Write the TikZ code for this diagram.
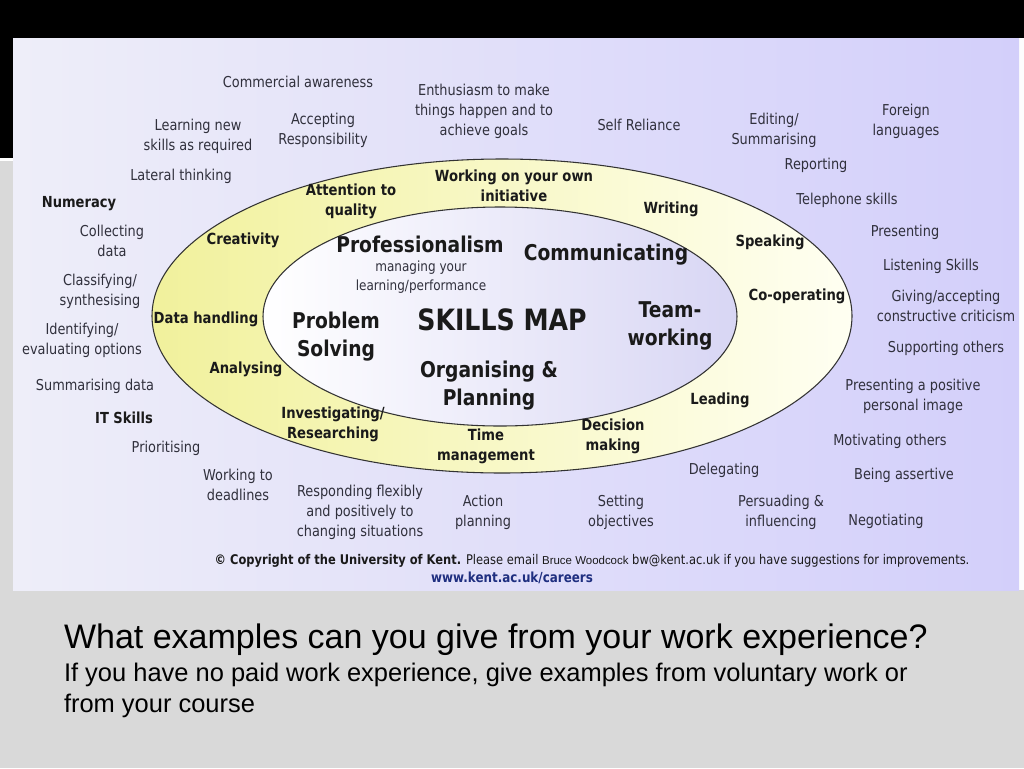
\documentclass[tikz,border=0pt]{standalone}
\usepackage{fontspec}
\setmainfont{DejaVu Sans}[FakeStretch=0.86]
\newfontfamily\arialf{Liberation Sans}
\definecolor{slidegrey}{HTML}{D9D9D9}
\definecolor{bgl}{HTML}{EEEEF9}
\definecolor{bgr}{HTML}{D3CFFA}
\definecolor{ringl}{HTML}{F1F19C}
\definecolor{ringr}{HTML}{FFFFF2}
\definecolor{innl}{HTML}{FFFFFF}
\definecolor{innr}{HTML}{D8D6F4}
\definecolor{txt}{HTML}{30303C}
\definecolor{txtb}{HTML}{1A1A1A}
\definecolor{navy}{HTML}{1F2F80}
\tikzset{
  lab/.style={font=\fontsize{11.25}{15}\selectfont, text=txt, align=center},
  labb/.style={font=\bfseries\fontsize{11.4}{15}\selectfont, text=txtb, align=center},
  ringlab/.style={font=\bfseries\fontsize{11.5}{15}\selectfont, text=txtb, align=center},
  core/.style={font=\bfseries\fontsize{16.3}{21}\selectfont, text=txtb, align=center},
  ringline/.style={draw=black!80, line width=0.8pt},
  slidetxt/.style={font=\arialf, text=black, anchor=base west}
}
\begin{document}
\begin{tikzpicture}[x=0.75pt,y=-0.75pt, every node/.style={inner sep=0pt, outer sep=0pt}]
\useasboundingbox (0,0) rectangle (1024,768);
% slide background
\fill[slidegrey] (0,0) rectangle (1024,768);
\fill[black] (0,0) rectangle (1024,38);
\fill[black] (0,38) rectangle (13,158);
\fill[white] (0,158) rectangle (13,161);
\fill[white!95!slidegrey] (1019,38) rectangle (1024,590);
% picture background
\shade[left color=bgl, right color=bgr] (13,38) rectangle (1019,590);
% ellipses
\path[ringline, left color=ringl, right color=ringr] (502,316) ellipse [x radius=350, y radius=157];
\path[ringline, left color=innl, right color=innr] (500,316.5) ellipse [x radius=237, y radius=109.5];

% outer labels
\node[lab] (comm) at (298,82) {Commercial awareness};
\node[lab] (enth) at (484,111) {Enthusiasm to make\\things happen and to\\achieve goals};
\node[lab] (acc) at (323,130) {Accepting\\Responsibility};
\node[lab] (learn) at (198,136) {Learning new\\skills as required};
\node[lab] (self) at (639,125) {Self Reliance};
\node[lab] (edit) at (774,130) {Editing/\\Summarising};
\node[lab] (foreign) at (906,121) {Foreign\\languages};
\node[lab] (report) at (816,165) {Reporting};
\node[lab] (lateral) at (181,176) {Lateral thinking};
\node[lab] (tele) at (847,200) {Telephone skills};
\node[labb] (numer) at (79,204) {Numeracy};
\node[lab] (collect) at (112,241) {Collecting\\data};
\node[lab] (present) at (905,232) {Presenting};
\node[lab] (classif) at (100,291) {Classifying/\\synthesising};
\node[lab] (listen) at (931,266) {Listening Skills};
\node[lab] (giving) at (946,306) {Giving/accepting\\constructive criticism};
\node[lab] (ident) at (82,340) {Identifying/\\evaluating options};
\node[lab] (support) at (946,348) {Supporting others};
\node[lab] (summdata) at (95,386) {Summarising data};
\node[lab] (posimg) at (913,396) {Presenting a positive\\personal image};
\node[labb] (itsk) at (124,418) {IT Skills};
\node[lab] (motiv) at (890,441) {Motivating others};
\node[lab] (prior) at (166,448) {Prioritising};
\node[lab] (deadl) at (238,485) {Working to\\deadlines};
\node[lab] (deleg) at (724,470) {Delegating};
\node[lab] (assert) at (904,475) {Being assertive};
\node[lab] (respond) at (360,512) {Responding flexibly\\and positively to\\changing situations};
\node[lab] (action) at (483,512) {Action\\planning};
\node[lab] (setting) at (621,512) {Setting\\objectives};
\node[lab] (persuade) at (781,512) {Persuading \&\\influencing};
\node[lab] (negot) at (886,521) {Negotiating};

% ring labels
\node[ringlab] (attn) at (351,201) {Attention to\\quality};
\node[ringlab] (initiative) at (514,186) {Working on your own\\initiative};
\node[ringlab] (writing) at (671,209) {Writing};
\node[ringlab] (creat) at (243,240) {Creativity};
\node[ringlab] (speak) at (770,242) {Speaking};
\node[ringlab] (coop) at (797,296) {Co-operating};
\node[ringlab] (datah) at (206,319) {Data handling};
\node[ringlab] (analys) at (246,369) {Analysing};
\node[ringlab] (leading) at (720,400) {Leading};
\node[ringlab] (invest) at (333,424) {Investigating/\\Researching};
\node[ringlab] (timem) at (486,446) {Time\\management};
\node[ringlab] (decis) at (613,436) {Decision\\making};

% core labels
\node[core] (prof) at (420,244) {Professionalism};
\node[lab, font=\fontsize{10.5}{14.5}\selectfont] (manag) at (421,277) {managing your\\learning/performance};
\node[core] (communic) at (606,255) {Communicating};
\node[core, font=\bfseries\fontsize{22}{24}\selectfont] (skills) at (502,320) {SKILLS MAP};
\node[core] (problem) at (336,337) {Problem\\Solving};
\node[core] (team) at (670,326) {Team-\\working};
\node[core] (organ) at (489,386) {Organising \&\\Planning};

% footer
\node[font=\fontsize{10}{12}\selectfont, text=txtb] (copy) at (592,561) {\textbf{© Copyright of the University of Kent.} Please email {\arialf\fontsize{8.6}{10}\selectfont Bruce Woodcock} bw@kent.ac.uk if you have suggestions for improvements.};
\node[font=\bfseries\fontsize{10.4}{12}\selectfont, text=navy] (www) at (512,578) {www.kent.ac.uk/careers};

% slide text
\node[slidetxt, font=\arialf\fontsize{25.5}{30}\selectfont] (q1) at (64,648) {What examples can you give from your work experience?};
\node[slidetxt, font=\arialf\fontsize{19.1}{23}\selectfont] (q2) at (64,681) {If you have no paid work experience, give examples from voluntary work or};
\node[slidetxt, font=\arialf\fontsize{19.1}{23}\selectfont] (q3) at (64,712) {from your course};
\end{tikzpicture}
\end{document}
